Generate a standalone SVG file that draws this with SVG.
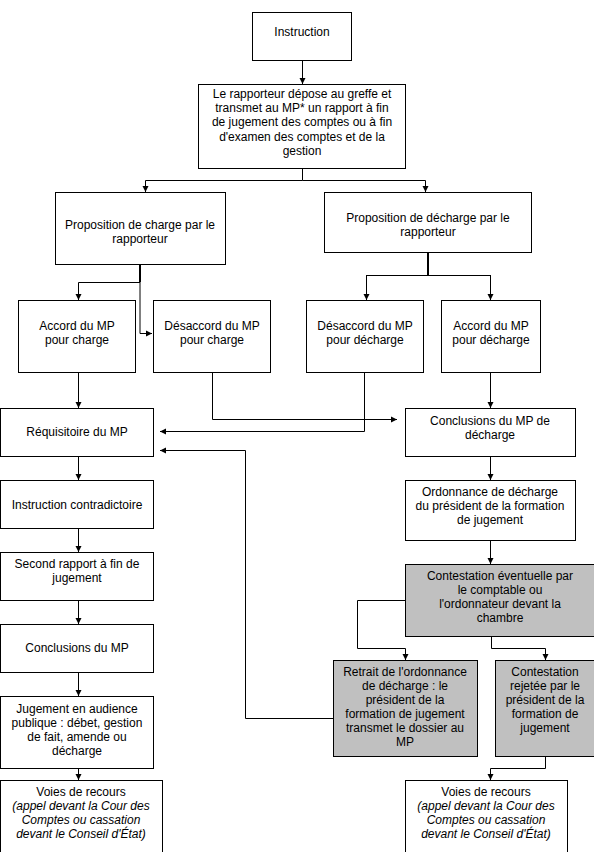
<svg xmlns="http://www.w3.org/2000/svg" width="594" height="852" viewBox="0 0 594 852">
<style>
.b{fill:#fff;stroke:#000;stroke-width:1}
.g{fill:#c0c0c0;stroke:#000;stroke-width:1}
text{font-family:"Liberation Sans",Arial,sans-serif;font-size:12px;text-anchor:middle;fill:#000}
.i{font-style:italic}
.c{fill:none;stroke:#000;stroke-width:1}
.t{fill:none;stroke:#000;stroke-width:2}
</style>
<defs>
<marker id="a" markerUnits="userSpaceOnUse" markerWidth="7" markerHeight="7" refX="6" refY="3.5" orient="auto">
<path d="M0,0.5 L6,3.5 L0,6.5 z" fill="#000"/>
</marker>
</defs>
<rect width="594" height="852" fill="#fff"/>
<g id="connectors">
<path class="c" d="M302.5,60 V84" marker-end="url(#a)"/>
<path class="c" d="M302.5,168 V180.5 H145.5 V192" marker-end="url(#a)"/>
<path class="c" d="M302.5,180.5 H425.5 V192" marker-end="url(#a)"/>
<path class="t" d="M140,264 V282"/>
<path class="c" d="M140,282.5 H78.5 V300" marker-end="url(#a)"/>
<path class="c" d="M140,282 V333.5 H152" marker-end="url(#a)"/>
<path class="t" d="M428,252 V275"/>
<path class="c" d="M366.5,275.5 H490.5 M366.5,275 V300" marker-end="url(#a)"/>
<path class="c" d="M490.5,275 V300" marker-end="url(#a)"/>
<path class="c" d="M78.5,372 V408" marker-end="url(#a)"/>
<path class="c" d="M212.5,372 V419.5 H397" marker-end="url(#a)"/>
<path class="c" d="M364.5,372 V431.5 H160" marker-end="url(#a)"/>
<path class="c" d="M490.5,372 V408" marker-end="url(#a)"/>
<path class="c" d="M333,718.5 H245.5 V450.5 H160" marker-end="url(#a)"/>
<path class="c" d="M78.5,456 V480" marker-end="url(#a)"/>
<path class="c" d="M78.5,528 V552" marker-end="url(#a)"/>
<path class="c" d="M78.5,600 V624" marker-end="url(#a)"/>
<path class="c" d="M78.5,672 V696" marker-end="url(#a)"/>
<path class="c" d="M78.5,768 V780" marker-end="url(#a)"/>
<path class="c" d="M490.5,456 V480" marker-end="url(#a)"/>
<path class="c" d="M490.5,540 V564" marker-end="url(#a)"/>
<path class="c" d="M405,600.5 H357.5 V648.5 H405.5 V660" marker-end="url(#a)"/>
<path class="c" d="M491.5,636 V648.5 H545.5 V660" marker-end="url(#a)"/>
<path class="c" d="M545.5,756 V768.5 H490.5 V780" marker-end="url(#a)"/>
</g>
<g id="n1"><rect class="b" x="252.5" y="12.5" width="99" height="48"/><text x="302" y="36">Instruction</text></g>
<g id="n2"><rect class="b" x="198.5" y="84.5" width="207" height="84"/>
<text x="302" y="98">Le rapporteur dépose au greffe et</text>
<text x="302" y="112">transmet au MP* un rapport à fin</text>
<text x="302" y="126">de jugement des comptes ou à fin</text>
<text x="302" y="141">d'examen des comptes et de la</text>
<text x="302" y="155">gestion</text></g>
<g id="n3"><rect class="b" x="55.5" y="192.5" width="170" height="72"/>
<text x="140" y="229">Proposition de charge par le</text><text x="140" y="243">rapporteur</text></g>
<g id="n4"><rect class="b" x="324.5" y="192.5" width="207" height="60"/>
<text x="428" y="222">Proposition de décharge par le</text><text x="428" y="236">rapporteur</text></g>
<g id="n5"><rect class="b" x="18.5" y="300.5" width="117" height="72"/>
<text x="77" y="330">Accord du MP</text><text x="77" y="344">pour charge</text></g>
<g id="n6"><rect class="b" x="153.5" y="300.5" width="117" height="72"/>
<text x="212" y="330">Désaccord du MP</text><text x="212" y="344">pour charge</text></g>
<g id="n7"><rect class="b" x="306.5" y="300.5" width="117" height="72"/>
<text x="365" y="330">Désaccord du MP</text><text x="365" y="344">pour décharge</text></g>
<g id="n8"><rect class="b" x="441.5" y="300.5" width="99" height="72"/>
<text x="491" y="330">Accord du MP</text><text x="491" y="344">pour décharge</text></g>
<g id="n9"><rect class="b" x="0.5" y="408.5" width="153" height="48"/><text x="77" y="436">Réquisitoire du MP</text></g>
<g id="n10"><rect class="b" x="405.5" y="408.5" width="170" height="48"/>
<text x="490" y="425">Conclusions du MP de</text><text x="490" y="439">décharge</text></g>
<g id="n11"><rect class="b" x="0.5" y="480.5" width="153" height="48"/><text x="77" y="509">Instruction contradictoire</text></g>
<g id="n12"><rect class="b" x="0.5" y="552.5" width="153" height="48"/>
<text x="77" y="568">Second rapport à fin de</text><text x="77" y="582">jugement</text></g>
<g id="n13"><rect class="b" x="0.5" y="624.5" width="153" height="48"/><text x="77" y="652">Conclusions du MP</text></g>
<g id="n14"><rect class="b" x="0.5" y="696.5" width="153" height="72"/>
<text x="77" y="713">Jugement en audience</text><text x="77" y="727">publique : débet, gestion</text>
<text x="77" y="741">de fait, amende ou</text><text x="77" y="755">décharge</text></g>
<g id="n15"><rect class="b" x="0.5" y="780.5" width="162" height="80"/>
<text x="81" y="796">Voies de recours</text>
<text class="i" x="81" y="810">(appel devant la Cour des</text>
<text class="i" x="81" y="824">Comptes ou cassation</text>
<text class="i" x="81" y="838">devant le Conseil d'État)</text></g>
<g id="n16"><rect class="b" x="405.5" y="480.5" width="170" height="60"/>
<text x="490" y="496">Ordonnance de décharge</text><text x="490" y="510">du président de la formation</text><text x="490" y="524">de jugement</text></g>
<g id="n17"><rect class="g" x="405.5" y="564.5" width="189" height="72"/>
<text x="500" y="580">Contestation éventuelle par</text><text x="500" y="594">le comptable ou</text>
<text x="500" y="608">l'ordonnateur devant la</text><text x="500" y="622">chambre</text></g>
<g id="n18"><rect class="g" x="333.5" y="660.5" width="144" height="96"/>
<text x="405" y="676">Retrait de l'ordonnance</text><text x="405" y="690">de décharge : le</text>
<text x="405" y="704">président de la</text><text x="405" y="718">formation de jugement</text>
<text x="405" y="732">transmet le dossier au</text><text x="405" y="746">MP</text></g>
<g id="n19"><rect class="g" x="495.5" y="660.5" width="99" height="96"/>
<text x="545" y="676">Contestation</text><text x="545" y="690">rejetée par le</text>
<text x="545" y="704">président de la</text><text x="545" y="718">formation de</text><text x="545" y="732">jugement</text></g>
<g id="n20"><rect class="b" x="405.5" y="780.5" width="162" height="80"/>
<text x="486" y="796">Voies de recours</text>
<text class="i" x="486" y="810">(appel devant la Cour des</text>
<text class="i" x="486" y="824">Comptes ou cassation</text>
<text class="i" x="486" y="838">devant le Conseil d'État)</text></g>
</svg>
